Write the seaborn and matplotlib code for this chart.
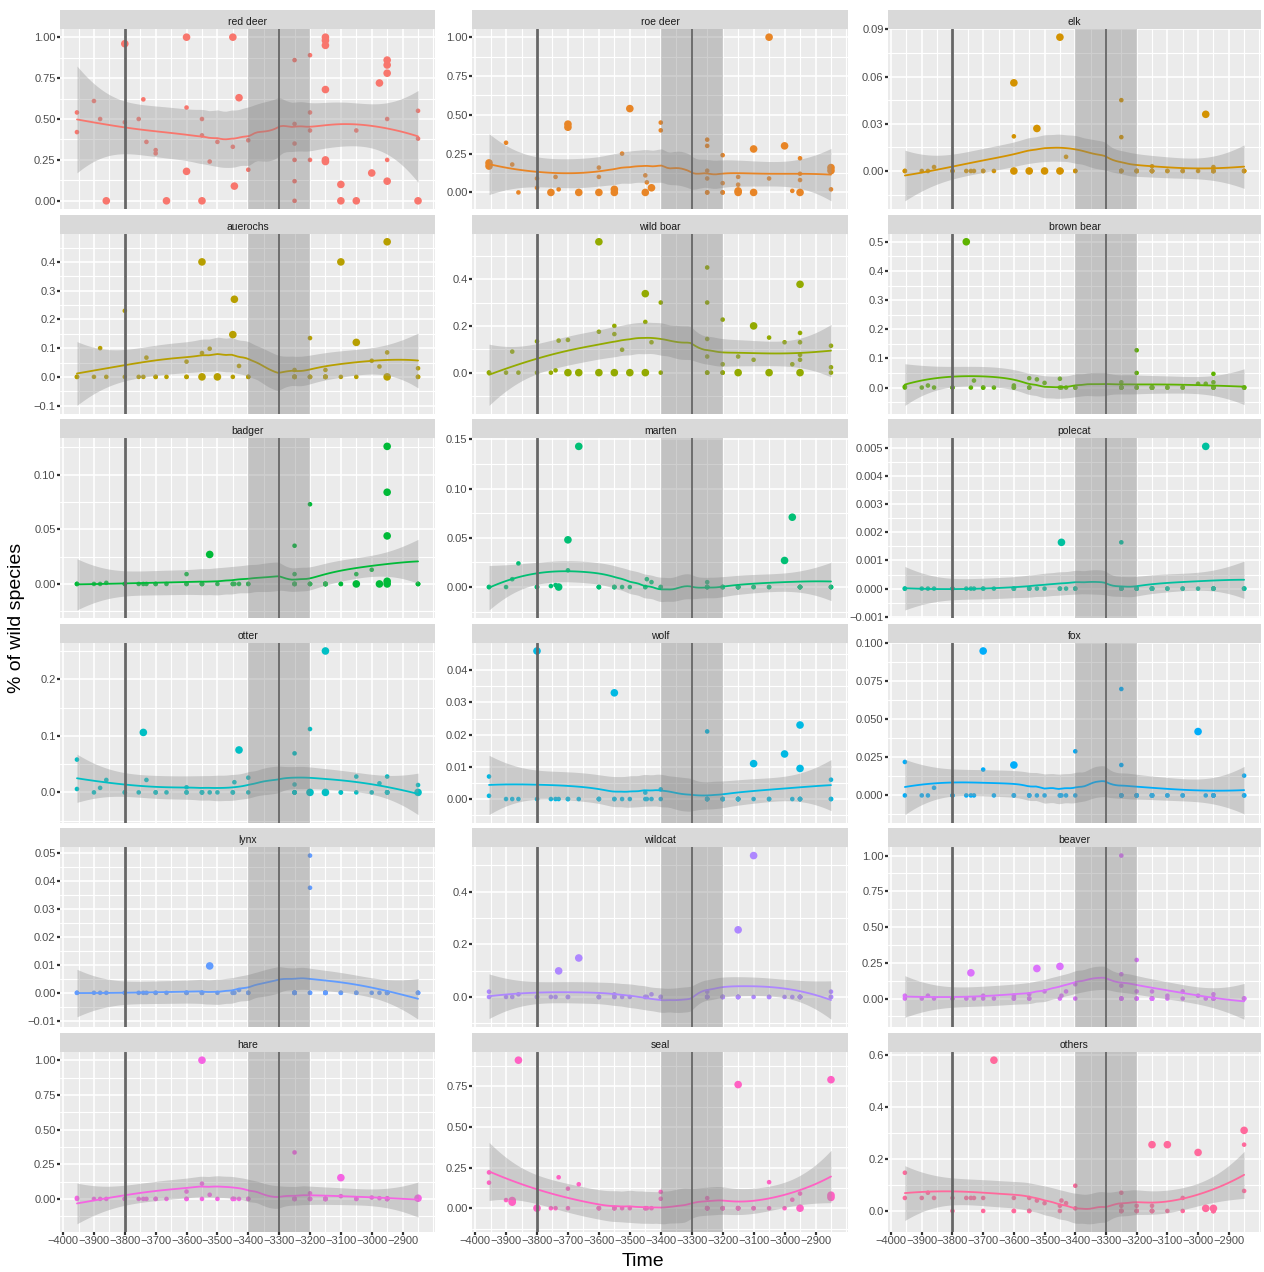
import numpy as np
import pandas as pd
import matplotlib
matplotlib.use("Agg")
import matplotlib.pyplot as plt
from matplotlib.ticker import MultipleLocator, AutoMinorLocator, FuncFormatter
from matplotlib.patches import Rectangle
import seaborn as sns

# dated sites and the number of faunal assemblages at each
site_years = [-3955, -3900, -3880, -3860, -3800, -3755, -3740, -3730, -3700, -3665,
              -3600, -3550, -3525, -3500, -3450, -3445, -3430, -3400,
              -3250, -3200, -3150, -3100, -3050, -3000, -2975, -2950, -2850]
assemblages_per_site = [2, 1, 1, 1, 2, 1, 1, 1, 2, 1,
                        3, 3, 1, 1, 2, 1, 1, 2,
                        6, 4, 6, 2, 2, 1, 1, 6, 3]

# (year, share of wild species, large sample flag); assemblages not listed score zero
RED_DEER = [
    (-3955, 0.54, 0), (-3955, 0.42, 0), (-3900, 0.61, 0), (-3880, 0.50, 0), (-3860, 0.00, 1),
    (-3800, 0.96, 1), (-3800, 0.48, 0), (-3755, 0.50, 0), (-3740, 0.62, 0), (-3730, 0.36, 0),
    (-3700, 0.31, 0), (-3700, 0.29, 0), (-3665, 0.00, 1),
    (-3600, 1.00, 1), (-3600, 0.57, 0), (-3600, 0.18, 1),
    (-3550, 0.50, 0), (-3550, 0.40, 0), (-3550, 0.00, 1),
    (-3525, 0.24, 0), (-3500, 0.36, 0), (-3450, 1.00, 1), (-3450, 0.33, 0), (-3445, 0.09, 1),
    (-3430, 0.63, 1), (-3400, 0.37, 0), (-3400, 0.19, 0),
    (-3250, 0.86, 0), (-3250, 0.47, 0), (-3250, 0.35, 0), (-3250, 0.25, 0), (-3250, 0.12, 0), (-3250, 0.00, 0),
    (-3200, 0.89, 0), (-3200, 0.54, 0), (-3200, 0.43, 0), (-3200, 0.25, 0),
    (-3150, 1.00, 1), (-3150, 0.98, 1), (-3150, 0.95, 1), (-3150, 0.68, 1), (-3150, 0.25, 1), (-3150, 0.24, 1),
    (-3100, 0.10, 1), (-3100, 0.00, 1), (-3050, 0.43, 0), (-3050, 0.00, 1), (-3000, 0.17, 1), (-2975, 0.72, 1),
    (-2950, 0.86, 1), (-2950, 0.83, 1), (-2950, 0.78, 1), (-2950, 0.50, 0), (-2950, 0.25, 0), (-2950, 0.12, 1),
    (-2850, 0.55, 0), (-2850, 0.38, 0), (-2850, 0.00, 1),
]

ROE_DEER = [
    (-3955, 0.19, 1), (-3955, 0.17, 1), (-3900, 0.32, 0), (-3880, 0.18, 0), (-3860, 0.00, 0),
    (-3800, 0.09, 0), (-3800, 0.03, 0), (-3755, 0.00, 1), (-3740, 0.10, 0), (-3730, 0.02, 0),
    (-3700, 0.44, 1), (-3700, 0.42, 1), (-3665, 0.00, 1),
    (-3600, 0.16, 0), (-3600, 0.10, 0), (-3600, 0.00, 1),
    (-3550, 0.02, 1), (-3550, 0.00, 1), (-3525, 0.25, 0), (-3500, 0.54, 1),
    (-3450, 0.11, 0), (-3450, 0.00, 1), (-3445, 0.065, 0), (-3430, 0.03, 1),
    (-3400, 0.45, 0), (-3400, 0.40, 0),
    (-3250, 0.34, 0), (-3250, 0.30, 0), (-3250, 0.14, 0), (-3250, 0.09, 0), (-3250, 0.00, 0),
    (-3200, 0.24, 0), (-3200, 0.06, 0), (-3200, 0.00, 0),
    (-3150, 0.10, 0), (-3150, 0.05, 0), (-3150, 0.01, 1), (-3150, 0.00, 1),
    (-3100, 0.28, 1), (-3100, 0.00, 1), (-3050, 1.00, 1), (-3050, 0.09, 0), (-3000, 0.30, 1), (-2975, 0.01, 0),
    (-2950, 0.22, 0), (-2950, 0.12, 0), (-2950, 0.08, 0), (-2950, 0.00, 1),
    (-2850, 0.16, 1), (-2850, 0.14, 1), (-2850, 0.02, 0),
]

ELK = [
    (-3955, 0.0, 0), (-3900, 0.0, 0), (-3880, 0.0, 0), (-3860, 0.0025, 0), (-3755, 0.0, 0),
    (-3740, 0.0, 0), (-3730, 0.0, 0), (-3700, 0.0, 0), (-3665, 0.0, 0),
    (-3600, 0.056, 1), (-3600, 0.022, 0), (-3600, 0.0, 1), (-3550, 0.0, 1), (-3525, 0.027, 1),
    (-3500, 0.0, 1), (-3450, 0.085, 1), (-3450, 0.0, 1), (-3430, 0.009, 0), (-3400, 0.0, 0),
    (-3250, 0.045, 0), (-3250, 0.0215, 0), (-3250, 0.0, 0), (-3200, 0.0, 0), (-3150, 0.003, 0),
    (-3150, 0.0, 0), (-3100, 0.0, 0), (-3050, 0.0, 0), (-3000, 0.0, 0), (-2975, 0.036, 1),
    (-2950, 0.0025, 0), (-2950, 0.0, 0), (-2850, 0.0, 0),
]

AUEROCHS = [
    (-3955, 0.0, 0), (-3900, 0.0, 0), (-3880, 0.10, 0), (-3860, 0.0, 0), (-3800, 0.23, 0), (-3800, 0.0, 0),
    (-3755, 0.0, 0), (-3740, 0.0, 0), (-3730, 0.067, 0), (-3700, 0.0, 0), (-3665, 0.0, 0),
    (-3600, 0.053, 0), (-3600, 0.0, 0), (-3550, 0.40, 1), (-3550, 0.083, 0), (-3550, 0.0, 1),
    (-3525, 0.098, 0), (-3500, 0.0, 1), (-3450, 0.147, 1), (-3450, 0.0, 0), (-3445, 0.27, 1),
    (-3430, 0.038, 0), (-3400, 0.0, 0),
    (-3250, 0.024, 0), (-3250, 0.0, 0), (-3200, 0.135, 0), (-3200, 0.0, 0), (-3150, 0.024, 0),
    (-3150, 0.0, 0), (-3100, 0.40, 1), (-3100, 0.0, 0), (-3050, 0.12, 1), (-3050, 0.0, 0),
    (-3000, 0.056, 0), (-2975, 0.036, 0), (-2950, 0.47, 1), (-2950, 0.085, 0), (-2950, 0.0, 1),
    (-2850, 0.03, 0), (-2850, 0.0, 0),
]

WILD_BOAR = [
    (-3955, 0.0, 0), (-3900, 0.0, 0), (-3880, 0.09, 0), (-3860, 0.0, 0), (-3800, 0.134, 0), (-3800, 0.0, 0),
    (-3755, 0.0, 0), (-3740, 0.01, 0), (-3730, 0.137, 0), (-3700, 0.14, 0), (-3700, 0.0, 1), (-3665, 0.0, 1),
    (-3600, 0.56, 1), (-3600, 0.175, 0), (-3600, 0.0, 1), (-3550, 0.20, 0), (-3550, 0.165, 0),
    (-3550, 0.0, 1), (-3525, 0.098, 0), (-3500, 0.0, 1),
    (-3450, 0.338, 1), (-3450, 0.217, 0), (-3450, 0.0, 1), (-3430, 0.13, 0), (-3400, 0.30, 0), (-3400, 0.0, 0),
    (-3250, 0.45, 0), (-3250, 0.30, 0), (-3250, 0.144, 0), (-3250, 0.069, 0), (-3250, 0.0, 0),
    (-3200, 0.227, 0), (-3200, 0.036, 0), (-3200, 0.0, 0), (-3150, 0.069, 0), (-3150, 0.0, 1),
    (-3100, 0.20, 1), (-3100, 0.055, 0), (-3050, 0.15, 0), (-3050, 0.0, 1), (-3000, 0.13, 0),
    (-2975, 0.036, 0), (-2950, 0.378, 1), (-2950, 0.17, 0), (-2950, 0.13, 0), (-2950, 0.076, 0),
    (-2950, 0.055, 0), (-2950, 0.0, 1), (-2850, 0.115, 0), (-2850, 0.023, 0), (-2850, 0.0, 0),
]

BROWN_BEAR = [
    (-3955, 0.003, 0), (-3900, 0.0, 0), (-3880, 0.007, 0), (-3860, 0.0, 0), (-3800, 0.0, 0),
    (-3755, 0.50, 1), (-3740, 0.0, 0), (-3730, 0.024, 0), (-3700, 0.0, 0), (-3665, 0.0, 0),
    (-3600, 0.007, 0), (-3600, 0.0, 0), (-3550, 0.032, 0), (-3550, 0.0, 0), (-3525, 0.028, 0),
    (-3500, 0.016, 0), (-3450, 0.03, 0), (-3450, 0.0, 0), (-3430, 0.0, 0), (-3400, 0.0, 0),
    (-3250, 0.018, 0), (-3250, 0.0, 0), (-3200, 0.128, 0), (-3200, 0.05, 0), (-3200, 0.0, 0),
    (-3150, 0.0, 0), (-3100, 0.0, 0), (-3050, 0.0, 0), (-3000, 0.013, 0), (-2975, 0.013, 0),
    (-2950, 0.047, 0), (-2950, 0.018, 0), (-2950, 0.0, 0), (-2850, 0.0, 0),
]

BADGER = [
    (-3955, 0.0, 0), (-3900, 0.0, 0), (-3880, 0.0, 0), (-3860, 0.001, 0), (-3755, 0.0, 0),
    (-3740, 0.0, 0), (-3730, 0.0, 0), (-3700, 0.0, 0), (-3665, 0.0, 0),
    (-3600, 0.009, 0), (-3600, 0.0, 0), (-3550, 0.0, 0), (-3525, 0.027, 1), (-3500, 0.0, 0),
    (-3450, 0.0, 0), (-3445, 0.0, 0), (-3430, 0.0, 0), (-3400, 0.0, 0),
    (-3250, 0.035, 0), (-3250, 0.009, 0), (-3250, 0.0, 0), (-3200, 0.073, 0), (-3200, 0.0, 0),
    (-3150, 0.0, 0), (-3100, 0.0, 0), (-3050, 0.009, 0), (-3050, 0.0, 1), (-3000, 0.013, 0),
    (-2975, 0.0, 1), (-2950, 0.126, 1), (-2950, 0.084, 1), (-2950, 0.044, 1), (-2950, 0.0025, 1),
    (-2950, 0.0, 1), (-2850, 0.0, 0),
]

MARTEN = [
    (-3955, 0.0, 0), (-3900, 0.0, 0), (-3880, 0.008, 0), (-3860, 0.024, 0), (-3800, 0.0, 0),
    (-3755, 0.001, 0), (-3740, 0.002, 0), (-3730, 0.0, 1), (-3700, 0.048, 1), (-3700, 0.017, 0),
    (-3665, 0.143, 1), (-3600, 0.0, 0), (-3550, 0.0, 0), (-3525, 0.0, 0), (-3500, 0.0, 0),
    (-3450, 0.0, 0), (-3445, 0.008, 0), (-3430, 0.005, 0), (-3400, 0.0, 0),
    (-3250, 0.005, 0), (-3250, 0.0, 0), (-3200, 0.0, 0), (-3150, 0.0, 0), (-3100, 0.0, 0),
    (-3050, 0.0, 0), (-3000, 0.027, 1), (-2975, 0.071, 1), (-2950, 0.0, 0), (-2850, 0.0, 0),
]

POLECAT = [
    (-3955, 0.0, 0), (-3900, 0.0, 0), (-3880, 0.0, 0), (-3860, 0.0, 0), (-3755, 0.0, 0),
    (-3740, 0.0, 0), (-3730, 0.0, 0), (-3700, 0.0, 0), (-3665, 0.0, 0), (-3600, 0.0, 0),
    (-3550, 0.0, 0), (-3525, 0.0, 0), (-3500, 0.0, 0), (-3445, 0.00164, 1), (-3450, 0.0, 0),
    (-3430, 0.0, 0), (-3400, 0.0, 0), (-3250, 0.00164, 0), (-3250, 0.0, 0), (-3200, 0.0, 0),
    (-3150, 0.0, 0), (-3100, 0.0, 0), (-3050, 0.0, 0), (-3000, 0.0, 0), (-2975, 0.00504, 1),
    (-2950, 0.0, 0), (-2850, 0.0, 0),
]

OTTER = [
    (-3955, 0.058, 0), (-3955, 0.006, 0), (-3900, 0.0, 0), (-3880, 0.008, 0), (-3860, 0.022, 0),
    (-3800, 0.0, 0), (-3755, 0.0, 0), (-3740, 0.106, 1), (-3730, 0.022, 0), (-3700, 0.0, 0),
    (-3665, 0.0, 0), (-3600, 0.009, 0), (-3600, 0.0, 0), (-3550, 0.0, 0), (-3525, 0.0, 0),
    (-3500, 0.0, 0), (-3450, 0.0, 0), (-3445, 0.018, 0), (-3430, 0.075, 1), (-3400, 0.026, 0),
    (-3400, 0.0, 0), (-3250, 0.069, 0), (-3250, 0.014, 0), (-3250, 0.0, 0), (-3200, 0.112, 0),
    (-3200, 0.0, 1), (-3150, 0.25, 1), (-3150, 0.0, 1), (-3100, 0.0, 0), (-3050, 0.028, 0),
    (-3050, 0.0, 0), (-3000, 0.0, 0), (-2975, 0.016, 0), (-2950, 0.028, 0), (-2950, 0.0, 0),
    (-2850, 0.013, 0), (-2850, 0.0, 1),
]

WOLF = [
    (-3955, 0.007, 0), (-3955, 0.001, 0), (-3900, 0.0, 0), (-3880, 0.0, 0), (-3860, 0.0, 0),
    (-3800, 0.046, 1), (-3755, 0.0, 0), (-3740, 0.0, 0), (-3730, 0.0, 0), (-3700, 0.0, 0),
    (-3665, 0.0, 0), (-3600, 0.0, 0), (-3550, 0.033, 1), (-3550, 0.0, 0), (-3525, 0.0, 0),
    (-3500, 0.0, 0), (-3450, 0.002, 0), (-3445, 0.0, 0), (-3430, 0.0, 0), (-3400, 0.003, 0),
    (-3250, 0.021, 0), (-3250, 0.0, 0), (-3200, 0.0, 0), (-3150, 0.0, 0), (-3100, 0.011, 1),
    (-3050, 0.0, 0), (-3000, 0.014, 1), (-2975, 0.0, 0), (-2950, 0.023, 1), (-2950, 0.0095, 1),
    (-2850, 0.006, 0), (-2850, 0.0, 0),
]

FOX = [
    (-3955, 0.022, 0), (-3955, 0.0, 0), (-3900, 0.0, 0), (-3880, 0.0, 0), (-3860, 0.005, 0),
    (-3800, 0.0, 0), (-3755, 0.0, 0), (-3740, 0.0, 0), (-3730, 0.0, 0), (-3700, 0.095, 1),
    (-3700, 0.017, 0), (-3665, 0.0, 0), (-3600, 0.02, 1), (-3600, 0.0, 0), (-3550, 0.0, 0),
    (-3525, 0.0, 0), (-3500, 0.0, 0), (-3450, 0.0, 0), (-3445, 0.0, 0), (-3430, 0.0, 0),
    (-3400, 0.029, 0), (-3400, 0.0, 0), (-3250, 0.07, 0), (-3250, 0.02, 0), (-3250, 0.0, 0),
    (-3200, 0.0, 0), (-3150, 0.0, 0), (-3100, 0.0, 0), (-3050, 0.0, 0), (-3000, 0.042, 1),
    (-2975, 0.0, 0), (-2950, 0.0, 0), (-2850, 0.013, 0), (-2850, 0.0, 0),
]

LYNX = [
    (-3955, 0.0, 0), (-3900, 0.0, 0), (-3880, 0.0, 0), (-3860, 0.0, 0), (-3800, 0.0, 0),
    (-3755, 0.0, 0), (-3740, 0.0, 0), (-3730, 0.0, 0), (-3700, 0.0, 0), (-3665, 0.0, 0),
    (-3600, 0.0, 0), (-3550, 0.0, 0), (-3525, 0.0096, 1), (-3500, 0.0, 0), (-3450, 0.0, 0),
    (-3445, 0.0, 0), (-3430, 0.001, 0), (-3400, 0.0, 0), (-3250, 0.0, 0), (-3200, 0.049, 0),
    (-3200, 0.0375, 0), (-3200, 0.0, 0), (-3150, 0.0, 0), (-3100, 0.0, 0), (-3050, 0.0, 0),
    (-3000, 0.0, 0), (-2975, 0.0, 0), (-2950, 0.0, 0), (-2850, 0.0, 0),
]

WILDCAT = [
    (-3955, 0.02, 0), (-3900, 0.0, 0), (-3880, 0.0, 0), (-3860, 0.01, 0), (-3800, 0.0, 0),
    (-3755, 0.0, 0), (-3740, 0.0, 0), (-3730, 0.099, 1), (-3700, 0.0, 0), (-3665, 0.148, 1),
    (-3600, 0.0, 0), (-3550, 0.01, 0), (-3525, 0.0, 0), (-3500, 0.0, 0), (-3450, 0.0, 0),
    (-3445, 0.0, 0), (-3430, 0.01, 0), (-3400, 0.0, 0), (-3250, 0.02, 0), (-3250, 0.0, 0),
    (-3200, 0.0, 0), (-3150, 0.255, 1), (-3150, 0.0, 0), (-3100, 0.537, 1), (-3100, 0.0, 0),
    (-3050, 0.0, 0), (-3000, 0.0, 0), (-2975, 0.0, 0), (-2950, 0.0, 0), (-2850, 0.02, 0),
    (-2850, 0.0, 0),
]

BEAVER = [
    (-3955, 0.02, 0), (-3900, 0.0, 0), (-3880, 0.02, 0), (-3860, 0.0, 0), (-3800, 0.0, 0),
    (-3755, 0.0, 0), (-3740, 0.18, 1), (-3730, 0.0, 0), (-3700, 0.02, 0), (-3665, 0.0, 0),
    (-3600, 0.02, 0), (-3550, 0.03, 0), (-3525, 0.21, 1), (-3500, 0.05, 0), (-3450, 0.225, 1),
    (-3445, 0.02, 0), (-3430, 0.05, 0), (-3400, 0.10, 0), (-3250, 1.0, 0), (-3250, 0.17, 0),
    (-3250, 0.09, 0), (-3250, 0.0, 0), (-3200, 0.27, 0), (-3200, 0.05, 0), (-3150, 0.05, 0),
    (-3100, 0.02, 0), (-3050, 0.05, 0), (-3000, 0.02, 0), (-2975, 0.0, 0), (-2950, 0.03, 0),
    (-2850, 0.0, 0),
]

HARE = [
    (-3955, 0.007, 0), (-3900, 0.0, 0), (-3880, 0.0, 0), (-3860, 0.0, 0), (-3755, 0.0, 0),
    (-3740, 0.0, 0), (-3730, 0.0, 0), (-3700, 0.0, 0), (-3665, 0.0, 0),
    (-3600, 0.053, 0), (-3600, 0.0, 0), (-3550, 1.0, 1), (-3550, 0.11, 0), (-3550, 0.0, 0),
    (-3525, 0.03, 0), (-3500, 0.0, 0), (-3450, 0.0, 0), (-3445, 0.0, 0), (-3430, 0.0, 0),
    (-3400, 0.0, 0), (-3250, 0.335, 0), (-3250, 0.0, 0), (-3200, 0.04, 0), (-3200, 0.0, 0),
    (-3150, 0.0, 0), (-3100, 0.153, 1), (-3100, 0.02, 0), (-3050, 0.0, 0), (-3000, 0.01, 0),
    (-2975, 0.005, 0), (-2950, 0.005, 0), (-2850, 0.005, 1),
]

SEAL = [
    (-3955, 0.22, 0), (-3955, 0.157, 0), (-3900, 0.05, 0), (-3880, 0.047, 1), (-3880, 0.037, 1),
    (-3860, 0.91, 1), (-3800, 0.0, 1), (-3755, 0.0, 0), (-3740, 0.0, 0), (-3730, 0.19, 0),
    (-3700, 0.12, 0), (-3700, 0.0, 0), (-3665, 0.147, 0), (-3600, 0.0, 0), (-3550, 0.0, 0),
    (-3525, 0.0, 0), (-3500, 0.0, 0), (-3450, 0.0, 0), (-3445, 0.0, 0), (-3430, 0.0, 0),
    (-3400, 0.10, 0), (-3400, 0.058, 0), (-3250, 0.062, 0), (-3250, 0.0, 0), (-3200, 0.0, 0),
    (-3150, 0.76, 1), (-3150, 0.0, 0), (-3100, 0.0, 0), (-3050, 0.16, 0), (-3050, 0.0, 0),
    (-3000, 0.0, 0), (-2975, 0.052, 0), (-2950, 0.09, 0), (-2950, 0.0, 1), (-2850, 0.79, 1),
    (-2850, 0.08, 1), (-2850, 0.066, 1),
]

OTHERS = [
    (-3955, 0.147, 0), (-3955, 0.05, 0), (-3900, 0.05, 0), (-3880, 0.07, 0), (-3860, 0.05, 0),
    (-3800, 0.05, 0), (-3755, 0.05, 0), (-3740, 0.05, 0), (-3730, 0.05, 0), (-3700, 0.05, 0),
    (-3665, 0.58, 1), (-3600, 0.05, 0), (-3550, 0.05, 0), (-3525, 0.04, 0), (-3500, 0.03, 0),
    (-3450, 0.02, 0), (-3445, 0.04, 0), (-3430, 0.03, 0), (-3400, 0.097, 0), (-3400, 0.01, 0),
    (-3250, 0.07, 0), (-3250, 0.02, 0), (-3200, 0.02, 0), (-3150, 0.255, 1), (-3150, 0.02, 0),
    (-3100, 0.255, 1), (-3050, 0.05, 0), (-3000, 0.225, 1), (-2975, 0.01, 1), (-2950, 0.01, 1),
    (-2850, 0.31, 1), (-2850, 0.255, 0), (-2850, 0.077, 0),
]

species = ["red deer", "roe deer", "elk", "auerochs", "wild boar", "brown bear",
           "badger", "marten", "polecat", "otter", "wolf", "fox",
           "lynx", "wildcat", "beaver", "hare", "seal", "others"]
tables = [RED_DEER, ROE_DEER, ELK, AUEROCHS, WILD_BOAR, BROWN_BEAR,
          BADGER, MARTEN, POLECAT, OTTER, WOLF, FOX,
          LYNX, WILDCAT, BEAVER, HARE, SEAL, OTHERS]
y_tick_step = [0.25, 0.25, 0.03, 0.1, 0.2, 0.1,
               0.05, 0.05, 0.001, 0.1, 0.01, 0.025,
               0.01, 0.2, 0.25, 0.25, 0.25, 0.2]
y_tick_digits = [2, 2, 2, 1, 1, 1,
                 2, 2, 3, 1, 2, 3,
                 2, 1, 2, 2, 2, 1]
x_ticks = list(range(-4000, -2899, 100))
event_years = [-3800, -3300]
event_widths = [2.0, 1.3]
event_window = (-3400, -3200)


def hcl_hex(h, c=100.0, l=65.0):
    """Polar CIE-Luv (HCL) colour to sRGB hex, as used for ggplot hue scales."""
    xn, yn, zn = 95.047, 100.0, 108.883
    u_ = c * np.cos(np.radians(h))
    v_ = c * np.sin(np.radians(h))
    y = yn * ((l + 16) / 116) ** 3 if l > 8 else yn * l / 903.3
    un = 4 * xn / (xn + 15 * yn + 3 * zn)
    vn = 9 * yn / (xn + 15 * yn + 3 * zn)
    u = u_ / (13 * l) + un
    v = v_ / (13 * l) + vn
    x = 9 * y * u / (4 * v)
    z = -x / 3 - 5 * y + 3 * y / v
    xyz = np.array([x, y, z]) / 100.0
    m = np.array([[3.240479, -1.537150, -0.498535],
                  [-0.969256, 1.875992, 0.041556],
                  [0.055648, -0.204043, 1.057311]])
    rgb = m @ xyz
    rgb = np.where(rgb <= 0.0031308, 12.92 * rgb, 1.055 * np.abs(rgb) ** (1 / 2.4) - 0.055)
    rgb = np.clip(rgb, 0, 1)
    return "#%02x%02x%02x" % tuple(int(round(255 * k)) for k in rgb)


def loess(x, y, grid, span=0.75):
    """Local quadratic regression with tricube weights and pointwise standard errors."""
    x = np.asarray(x, float)
    y = np.asarray(y, float)
    n = len(x)
    q = int(np.floor(n * span))
    mu, sd = x.mean(), x.std()
    xs = (x - mu) / sd

    def row(x0):
        x0s = (x0 - mu) / sd
        d = np.abs(xs - x0s)
        h = np.sort(d)[q - 1] * 1.0000001
        w = np.clip(1 - (d / h) ** 3, 0, None) ** 3
        X = np.column_stack([np.ones(n), xs - x0s, (xs - x0s) ** 2])
        XtW = X.T * w
        return np.linalg.solve(XtW @ X, XtW)[0]

    L = np.array([row(v) for v in x])
    G = np.array([row(v) for v in grid])
    resid = y - L @ y
    M = np.eye(n) - L
    delta1 = np.trace(M.T @ M)
    sigma = np.sqrt(resid @ resid / delta1)
    return G @ y, sigma * np.sqrt((G ** 2).sum(axis=1))


def complete(rows):
    """Add zero shares for the assemblages of a site where the species is absent."""
    df = pd.DataFrame(rows, columns=["year", "share", "big"])
    have = df["year"].value_counts()
    extra = [(yr, 0.0, 0) for yr, k in zip(site_years, assemblages_per_site)
             for _ in range(k - int(have.get(yr, 0)))]
    if extra:
        df = pd.concat([df, pd.DataFrame(extra, columns=df.columns)], ignore_index=True)
    return df


sns.set_style("darkgrid", {"axes.facecolor": "#EBEBEB", "grid.color": "white"})
plt.rcParams["font.family"] = ["Liberation Sans", "DejaVu Sans"]
plt.rcParams["axes.unicode_minus"] = True

W, H = 1264, 1272
fig = plt.figure(figsize=(W / 100, H / 100), dpi=100)
fig.patch.set_facecolor("white")

col_left = [60, 472, 888]
col_right = [435, 848, 1261]
strip_h = 19
panel_h = 180
row_pitch = 204.6

palette = [hcl_hex(15 + 20 * i) for i in range(len(species))]
xlim = (-4010, -2795)

for i, (name, rows) in enumerate(zip(species, tables)):
    r, c = divmod(i, 3)
    top = 10 + row_pitch * r + strip_h
    ax = fig.add_axes([col_left[c] / W, 1 - (top + panel_h) / H,
                       (col_right[c] - col_left[c]) / W, panel_h / H])
    df = complete(rows)
    df["n"] = np.where(df["big"] == 1, "large", "small")
    color = palette[i]

    sns.scatterplot(data=df, x="year", y="share", size="n",
                    sizes={"small": 11, "large": 30}, color=color,
                    linewidth=0, legend=False, ax=ax, zorder=2)

    grid = np.linspace(df["year"].min(), df["year"].max(), 120)
    fit, se = loess(df["year"].values, df["share"].values, grid)
    lo, hi = fit - 2.0 * se, fit + 2.0 * se
    ax.fill_between(grid, lo, hi, color="#999999", alpha=0.4, lw=0, zorder=3)
    sns.lineplot(x=grid, y=fit, color=color, lw=1.3, ax=ax, zorder=4)

    ax.axvspan(*event_window, color="#808080", alpha=0.38, lw=0, zorder=5)
    for yr, lw in zip(event_years, event_widths):
        ax.axvline(yr, color="#666666", lw=lw, zorder=6)

    ymin = min(df["share"].min(), lo.min())
    ymax = max(df["share"].max(), hi.max())
    pad = 0.05 * (ymax - ymin)
    ax.set_xlim(*xlim)
    ax.set_ylim(ymin - pad, ymax + pad)

    ax.xaxis.set_major_locator(plt.FixedLocator(x_ticks))
    ax.xaxis.set_minor_locator(MultipleLocator(50))
    ax.yaxis.set_major_locator(MultipleLocator(y_tick_step[i]))
    ax.yaxis.set_minor_locator(AutoMinorLocator(2))
    digits = y_tick_digits[i]
    ax.yaxis.set_major_formatter(FuncFormatter(
        lambda v, p, d=digits: ("%.*f" % (d, v)).replace("-", "\u2212") if abs(v) > 1e-12 else "%.*f" % (d, 0.0)))
    ax.grid(which="major", color="white", lw=1.2)
    ax.grid(which="minor", color="white", lw=0.8)
    ax.set_axisbelow(True)
    for s in ax.spines.values():
        s.set_visible(False)
    ax.set_xlabel("")
    ax.set_ylabel("")
    ax.tick_params(axis="y", which="major", left=True, length=2.2, width=1.6, color="#333333",
                   labelsize=8, labelcolor="#4D4D4D", pad=1)
    ax.tick_params(axis="both", which="minor", length=0)
    if r == 5:
        ax.tick_params(axis="x", which="major", bottom=True, length=2.2, width=1.6, color="#333333",
                       labelsize=8, labelcolor="#4D4D4D", pad=1)
        ax.xaxis.set_major_formatter(FuncFormatter(lambda v, p: ("%d" % v).replace("-", "\u2212")))
    else:
        ax.tick_params(axis="x", which="major", bottom=False, labelbottom=False)

    # facet strip
    ax.add_patch(Rectangle((0, 1), 1, strip_h / panel_h, transform=ax.transAxes,
                           facecolor="#D9D9D9", edgecolor="none", clip_on=False, zorder=1))
    ax.text(0.5, 1 + (strip_h / 2 - 2.5) / panel_h, name, transform=ax.transAxes,
            ha="center", va="center", fontsize=7.5, color="#1A1A1A")

fig.text(17 / W, 1 - 618 / H, "% of wild species", rotation=90,
         ha="center", va="center", fontsize=14, color="black")
fig.text(643 / W, 1 - 1262 / H, "Time", ha="center", va="center", fontsize=14, color="black")

fig.savefig("out.png", dpi=100, facecolor="white")
